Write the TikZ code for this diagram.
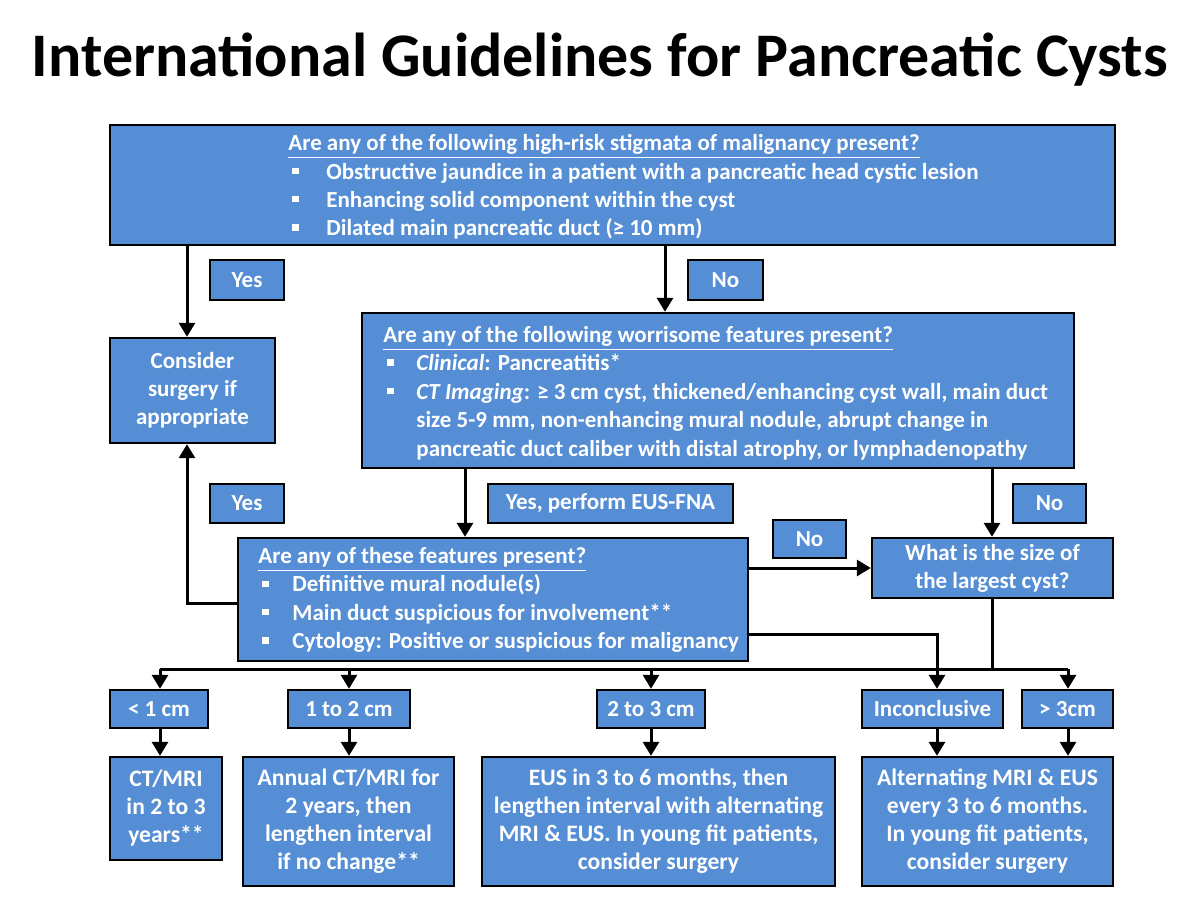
\documentclass[tikz,border=0pt]{standalone}
\usepackage{fontspec}
\setmainfont{Carlito}
\usetikzlibrary{arrows.meta,calc}
\definecolor{boxblue}{RGB}{85,142,213}
\newcommand\bulitem[1]{\makebox[#1][l]{\hspace*{2pt}\rule[2.5pt]{3.2pt}{3.2pt}}}
\begin{document}
\begin{tikzpicture}[x=0.5pt,y=-0.5pt,
  box/.style 2 args={draw=black, line width=1.2pt, fill=boxblue, inner sep=0pt, text=white,
    font=\bfseries\fontsize{11.5}{14}\selectfont, align=center,
    minimum width=#1pt, minimum height=#2pt},
  big/.style={font=\bfseries\fontsize{11.8}{14}\selectfont},
  txt/.style={text=white, font=\bfseries\fontsize{11.5}{14.2}\selectfont, align=left, inner sep=0pt, anchor=west},
  arr/.style={line width=1.5pt, -{Triangle[length=7pt,width=8pt]}},
  ln/.style={line width=1.5pt},
  ttl/.style={font=\bfseries\fontsize{31}{36}\selectfont}]
\useasboundingbox (0,0) rectangle (1200,900);
% title
\node[ttl, text=black] (title) at (600,60) {International Guidelines for Pancreatic Cysts};
% boxes
\node[box={502.5}{60}] (top) at (612.5,185) {};
\node[txt] (toptxt) at (288,187) {\underline{Are any of the following high-risk stigmata of malignancy present?}\\
  \bulitem{19pt}Obstructive jaundice in a patient with a pancreatic head cystic lesion\\
  \bulitem{19pt}Enhancing solid component within the cyst\\
  \bulitem{19pt}Dilated main pancreatic duct (≥ 10 mm)};
\node[box={37}{20}] (yes1) at (247,280) {Yes};
\node[box={37.5}{20}] (no1) at (725.5,280) {No};
\node[box={82.5}{52.5}] (consider) at (192.5,390.5) {Consider\\surgery if\\appropriate};
\node[box={356}{77.5}] (worry) at (718,390.5) {};
\node[txt] (worrytxt) at (383,393) {\underline{Are any of the following worrisome features present?}\\
  \bulitem{16.5pt}\textit{Clinical}: Pancreatitis*\\
  \bulitem{16.5pt}\textit{CT Imaging}: ≥ 3 cm cyst, thickened/enhancing cyst wall, main duct\\
  \hspace*{16.5pt}size 5-9 mm, non-enhancing mural nodule, abrupt change in\\
  \hspace*{16.5pt}pancreatic duct caliber with distal atrophy, or lymphadenopathy};
\node[box={37}{19.5}] (yes2) at (247,503.5) {Yes};
\node[box={122.5}{19.5}] (yeseus) at (610.5,503.5) {Yes, perform EUS-FNA};
\node[box={36.5}{19.5}] (no2) at (1049.5,503.5) {No};
\node[box={36.5}{19}] (no3) at (809.5,539) {No};
\node[box={255}{61.5}] (feat) at (493,599.5) {};
\node[txt] (feattxt) at (258,600) {\underline{Are any of these features present?}\\
  \bulitem{17pt}Definitive mural nodule(s)\\
  \bulitem{17pt}Main duct suspicious for involvement**\\
  \bulitem{17pt}Cytology: Positive or suspicious for malignancy};
\node[box={120.5}{30}] (size) at (992.5,568) {What is the size of\\the largest cyst?};
\node[box={49}{19}] (l1) at (159,709) {< 1 cm};
\node[box={61}{19}] (l2) at (349,709) {1 to 2 cm};
\node[box={54}{19}] (l3) at (651,709) {2 to 3 cm};
\node[box={70.5}{19}] (l4) at (932.5,709) {Inconclusive};
\node[box={45.5}{19}] (l5) at (1067.5,709) {> 3cm};
\node[box={56}{51.5}, big] (b1) at (166,808.5) {CT/MRI\\in 2 to 3\\years**};
\node[box={105.5}{64.5}, big] (b2) at (348.5,821.5) {Annual CT/MRI for\\2 years, then\\lengthen interval\\if no change**};
\node[box={176.5}{64.5}, big] (b3) at (658.5,821.5) {EUS in 3 to 6 months, then\\lengthen interval with alternating\\MRI \& EUS. In young fit patients,\\consider surgery};
\node[box={125.5}{64.5}, big] (b4) at (987.5,821.5) {Alternating MRI \& EUS\\every 3 to 6 months.\\In young fit patients,\\consider surgery};
% helper coordinates
\coordinate (xa) at (187,0);
\coordinate (xb) at (665,0);
\coordinate (xc) at (465,0);
\coordinate (xd) at (992,0);
\coordinate (xe) at (937,0);
\coordinate (ya) at (0,568);
\coordinate (yb) at (0,603);
\coordinate (yc) at (0,634);
\coordinate (bus) at (0,669);
\coordinate (busL) at (160,669);
\coordinate (busR) at (1068,669);
% connectors
\draw[arr] (top.south -| xa) -- (consider.north -| xa);
\draw[arr] (top.south -| xb) -- (worry.north -| xb);
\draw[arr] (worry.south -| xc) -- (feat.north -| xc);
\draw[arr] (worry.south -| xd) -- (size.north -| xd);
\draw[arr] (feat.east |- ya) -- (size.west |- ya);
\draw[arr] (feat.west |- yb) -| (consider.south -| xa);
\draw[arr] (feat.east |- yc) -| (l4.north -| xe);
\draw[ln] (size.south -| xd) -- (bus -| xd);
\draw[ln] (busL) -- (busR);
\draw[arr] (busL) -- (l1.north -| busL);
\draw[arr] (bus -| l2.north) -- (l2.north);
\draw[arr] (bus -| l3.north) -- (l3.north);
\draw[arr] (busR) -- (l5.north -| busR);
\draw[arr] (l1.south -| busL) -- (b1.north -| busL);
\draw[arr] (l2.south) -- (b2.north -| l2.south);
\draw[arr] (l3.south) -- (b3.north -| l3.south);
\draw[arr] (l4.south -| xe) -- (b4.north -| xe);
\draw[arr] (l5.south -| busR) -- (b4.north -| busR);
\end{tikzpicture}
\end{document}
